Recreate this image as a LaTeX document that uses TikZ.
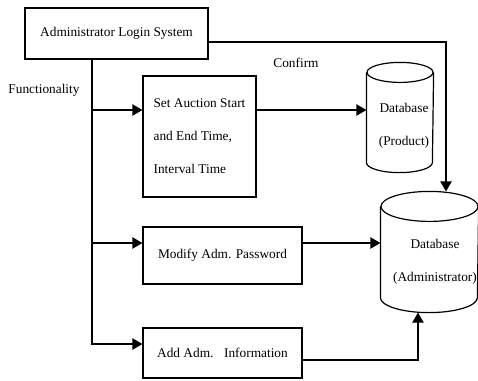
\documentclass[tikz,border=0pt]{standalone}
\usepackage{fontspec}
\setmainfont{Liberation Serif}
\usetikzlibrary{arrows.meta}
\tikzset{
  block/.style={draw,line width=0.9pt,inner sep=0pt,font=\fontsize{10pt}{24.75pt}\selectfont},
  dbody/.style={inner sep=0pt},
  lbl/.style={font=\fontsize{10pt}{24.75pt}\selectfont,inner sep=0pt},
}
\begin{document}
\begin{tikzpicture}[x=0.75pt,y=-0.75pt,>={Triangle[length=7.5pt,width=8.5pt]},line width=0.9pt]
  \useasboundingbox (0,0) rectangle (478,380);
  % boxes
  \node[block,minimum width=137.25pt,minimum height=38.25pt] (login) at (116.5,33.5) {Administrator Login System};
  \node[block,minimum width=84.75pt,minimum height=90.75pt,align=left] (set) at (199.5,136.5) {Set Auction Start\\and End Time,\\Interval Time};
  \node[block,minimum width=119.25pt,minimum height=42.75pt] (mod) at (222.5,255.5) {Modify Adm. Password};
  \node[block,minimum width=119.25pt,minimum height=37.5pt] (add) at (222.5,353) {Add Adm.\hspace{0.8em}Information};
  % databases
  \node[dbody,minimum width=49.5pt,minimum height=81.75pt] (pdb) at (400,117.5) {};
  \draw ([yshift=-7.5pt]pdb.north west) -- ([yshift=7.5pt]pdb.south west)
    arc[start angle=180,end angle=360,x radius=24.75pt,y radius=7.5pt] -- ([yshift=-7.5pt]pdb.north east);
  \draw ([yshift=-7.5pt]pdb.north) ellipse[x radius=24.75pt,y radius=7.5pt];
  \node[dbody,minimum width=72.75pt,minimum height=90pt] (adb) at (429.5,252) {};
  \draw ([yshift=-11.25pt]adb.north west) -- ([yshift=11.25pt]adb.south west)
    arc[start angle=180,end angle=360,x radius=36.375pt,y radius=11.25pt] -- ([yshift=-11.25pt]adb.north east);
  \draw ([yshift=-11.25pt]adb.north) ellipse[x radius=36.375pt,y radius=11.25pt];
  \node[lbl,align=center] (pdbtext) at (404,125.5) {Database\\(Product)};
  \node[lbl,align=center] (adbtext) at (435,261.5) {Database\\(Administrator)};
  % labels
  \node[lbl] (confirm) at (296,63) {Confirm};
  \node[lbl] (func) at (44,90) {Functionality};
  % connectors
  \coordinate (f1) at (92,110);
  \coordinate (f2) at (92,243);
  \coordinate (f3) at (92,344);
  \coordinate (c1) at (446,42);
  \coordinate (a3) at (418,360);
  \draw[->] (login.south -| f1) -- (f3) -- (f3 -| add.west);
  \draw[->] (f1) -- (f1 -| set.west);
  \draw[->] (f2) -- (f2 -| mod.west);
  \draw[->] (set.east |- f1) -- (f1 -| pdb.west);
  \draw[->] (mod.east |- f2) -- (f2 -| adb.west);
  \draw[->] (login.east |- c1) -- (c1) -- (c1 |- adb.north);
  \draw[->] (add.east |- a3) -- (a3) -- (a3 |- adb.south);
\end{tikzpicture}
\end{document}
